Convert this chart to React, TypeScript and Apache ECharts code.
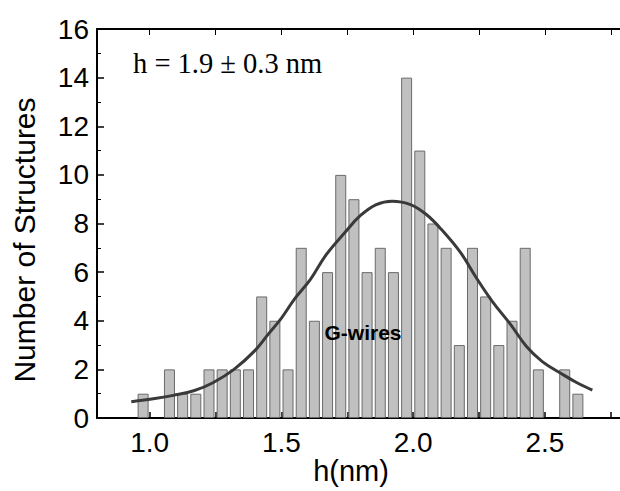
import React, { useEffect, useRef } from "react";
import * as echarts from "echarts";

// Histogram bins (centres, nm) and counts
const binCenters = [
  0.975, 1.025, 1.075, 1.125, 1.175, 1.225, 1.275, 1.325, 1.375, 1.425,
  1.475, 1.525, 1.575, 1.625, 1.675, 1.725, 1.775, 1.825, 1.875, 1.925,
  1.975, 2.025, 2.075, 2.125, 2.175, 2.225, 2.275, 2.325, 2.375, 2.425,
  2.475, 2.525, 2.575, 2.625,
];
const counts = [
  1, 0, 2, 1, 1, 2, 2, 2, 2, 5,
  4, 2, 7, 4, 6, 10, 9, 6, 7, 6,
  14, 11, 8, 7, 3, 7, 5, 3, 4, 7,
  2, 0, 2, 1,
];

// Fitted curve
const fitX = [
  0.93, 1.02, 1.09, 1.17, 1.24, 1.32, 1.40, 1.45, 1.50, 1.55,
  1.61, 1.67, 1.74, 1.80, 1.86, 1.92, 1.99, 2.05, 2.11, 2.18,
  2.24, 2.30, 2.37, 2.43, 2.49, 2.56, 2.62, 2.68,
];
const fitY = [
  0.67, 0.80, 0.93, 1.13, 1.45, 2.0, 2.78, 3.45, 4.11, 4.9,
  5.7, 6.72, 7.62, 8.33, 8.78, 8.92, 8.78, 8.37, 7.72, 6.8,
  5.76, 4.8, 3.84, 2.94, 2.32, 1.84, 1.46, 1.15,
];

const xLabelValues = [1.0, 1.5, 2.0, 2.5];
const xTickValues = [1.0, 1.25, 1.5, 1.75, 2.0, 2.25, 2.5, 2.75];

export default function App() {
  const ref = useRef<HTMLDivElement>(null);
  useEffect(() => {
    if (!ref.current) return;
    const chart = echarts.init(ref.current, undefined, { renderer: "svg" });
    const line = () => ({ show: true, onZero: false, lineStyle: { color: "#000", width: 2 } });
    chart.setOption({
      animation: false,
      backgroundColor: "#fff",
      grid: {
        left: 97,
        top: 29,
        width: 527,
        height: 389,
        containLabel: false,
        outerBoundsMode: "none",
      },
      xAxis: [
        {
          type: "value",
          min: 0.8,
          max: 2.8,
          position: "bottom",
          axisLine: line(),
          splitLine: { show: false },
          axisTick: {
            show: true,
            inside: true,
            length: 6,
            customValues: xTickValues,
            lineStyle: { color: "#000", width: 1.5 },
          },
          axisLabel: {
            show: true,
            customValues: xLabelValues,
            formatter: (v: number) => v.toFixed(1),
            fontFamily: "Liberation Sans, Arial, sans-serif",
            fontSize: 28,
            color: "#000",
            margin: 10,
          },
        },
        {
          type: "value",
          min: 0.8,
          max: 2.8,
          position: "top",
          axisLine: line(),
          splitLine: { show: false },
          axisTick: {
            show: true,
            inside: true,
            length: 6,
            customValues: xTickValues,
            lineStyle: { color: "#000", width: 1 },
          },
          axisLabel: { show: false },
        },
      ],
      yAxis: [
        {
          type: "value",
          min: 0,
          max: 16,
          interval: 2,
          position: "left",
          axisLine: line(),
          splitLine: { show: false },
          axisTick: { show: true, inside: true, length: 7, lineStyle: { color: "#000", width: 1.5 } },
          minorTick: { show: true, splitNumber: 2, length: 4, lineStyle: { color: "#000", width: 1 } },
          axisLabel: {
            show: true,
            fontFamily: "Liberation Sans, Arial, sans-serif",
            fontSize: 28,
            color: "#000",
            margin: 8,
          },
        },
      ],
      series: [
        {
          type: "bar",
          xAxisIndex: 0,
          yAxisIndex: 0,
          barWidth: 11,
          data: binCenters
            .map((x, i) => [x, counts[i]])
            .filter((d) => d[1] > 0),
          itemStyle: { color: "#c0c0c0", borderColor: "#6a6a6a", borderWidth: 1 },
          z: 2,
        },
        {
          type: "line",
          xAxisIndex: 0,
          yAxisIndex: 0,
          smooth: 0.4,
          showSymbol: false,
          data: fitX.map((x, i) => [x, fitY[i]]),
          lineStyle: { color: "#3a3a3a", width: 3 },
          z: 3,
        },
      ],
      graphic: [
        {
          type: "text",
          x: 133,
          y: 63,
          style: {
            text: "h = 1.9 ± 0.3 nm",
            fontFamily: "Liberation Serif, Times New Roman, serif",
            fontSize: 28.5,
            fill: "#000",
            textVerticalAlign: "middle",
          },
          z: 10,
        },
        {
          type: "text",
          x: 363,
          y: 332,
          style: {
            text: "G-wires",
            fontFamily: "Liberation Sans, Arial, sans-serif",
            fontWeight: "bold",
            fontSize: 21,
            fill: "#000",
            textAlign: "center",
            textVerticalAlign: "middle",
          },
          z: 10,
        },
        {
          type: "text",
          x: 24,
          y: 240,
          rotation: Math.PI / 2,
          style: {
            text: "Number of Structures",
            fontFamily: "Liberation Sans, Arial, sans-serif",
            fontSize: 30,
            fill: "#000",
            textAlign: "center",
            textVerticalAlign: "middle",
          },
          z: 10,
        },
        {
          type: "text",
          x: 351,
          y: 471,
          style: {
            text: "h(nm)",
            fontFamily: "Liberation Sans, Arial, sans-serif",
            fontSize: 29,
            fill: "#000",
            textAlign: "center",
            textVerticalAlign: "middle",
          },
          z: 10,
        },
      ],
    });
    return () => chart.dispose();
  }, []);
  return <div ref={ref} style={{ width: 620, height: 491, position: "absolute", left: 0, top: 0 }} />;
}
